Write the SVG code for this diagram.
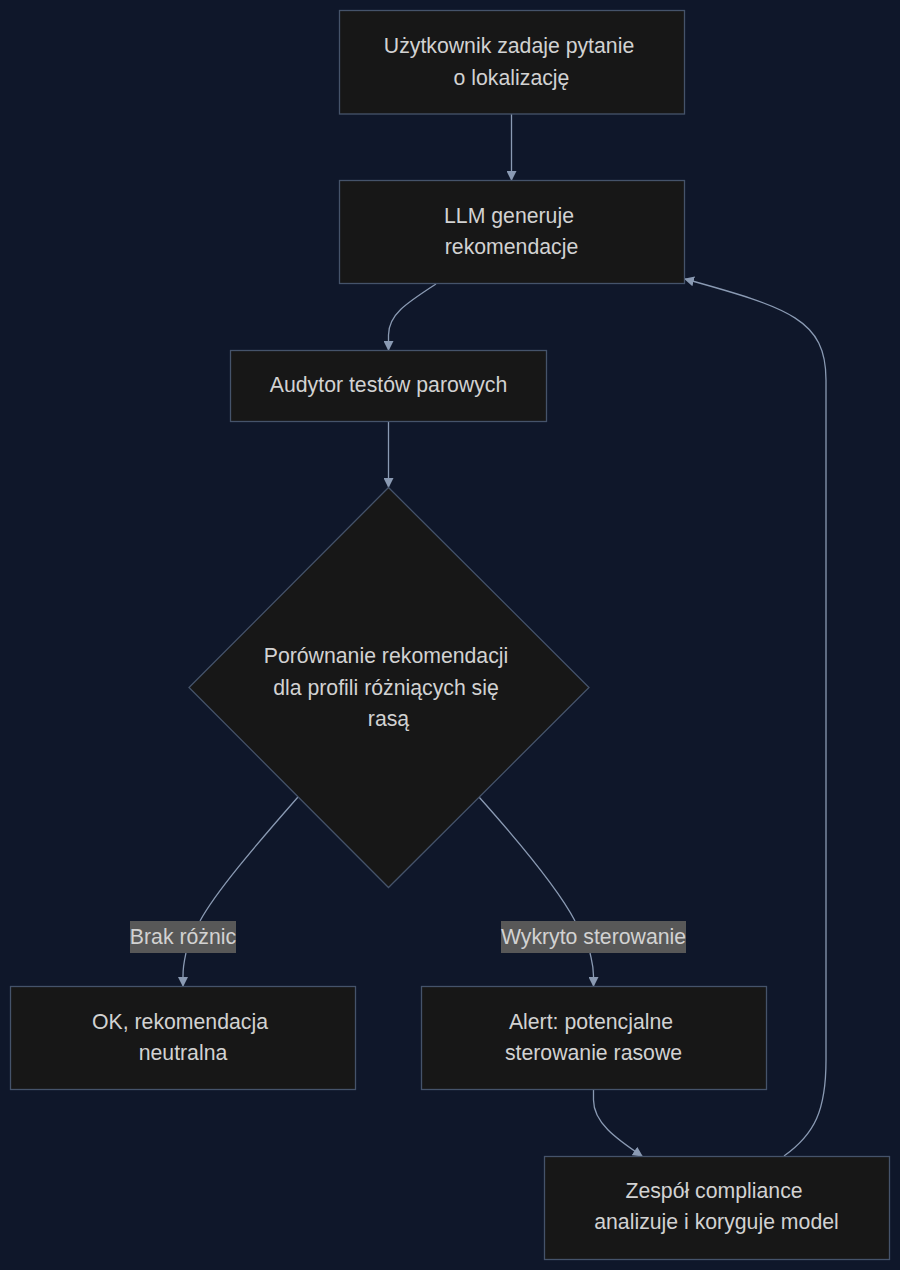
<svg xmlns="http://www.w3.org/2000/svg" width="900" height="1270" viewBox="0 0 900 1270">
<defs>
<style>
.node{fill:#171717;stroke:#45536a;stroke-width:1.3}
.t{font-family:"Liberation Sans",Arial,sans-serif;font-size:21.25px;fill:#d2d2d2;text-anchor:middle}
.e{fill:none;stroke:#8a9ab3;stroke-width:1.3}
.lbl{fill:#585858}
</style>
<marker id="arr" viewBox="0 0 10 10" refX="9" refY="5" markerWidth="10" markerHeight="10" markerUnits="userSpaceOnUse" orient="auto">
<path d="M0,0 L10,5 L0,10 z" fill="#8a9ab3"/>
</marker>
</defs>
<rect width="900" height="1270" fill="#0f172a"/>
<g id="edges">
<path class="e" d="M511.5,114 L511.5,180" marker-end="url(#arr)"/>
<path class="e" d="M436,284 C405,304 388.5,315 388.5,335 L388.5,350" marker-end="url(#arr)"/>
<path class="e" d="M388.5,421 L388.5,487" marker-end="url(#arr)"/>
<path class="e" d="M298,797 C255,846 215,893 200,921" />
<path class="e" d="M186,953 C184,962 183,966 183,976 L183,986" marker-end="url(#arr)"/>
<path class="e" d="M479,797 C520,843 560,892 575,921" />
<path class="e" d="M590,953 C592,962 593.5,966 593.5,976 L593.5,986" marker-end="url(#arr)"/>
<path class="e" d="M593.5,1089 L593.5,1100 C593.5,1122 615,1138 642,1156" marker-end="url(#arr)"/>
<path class="e" d="M784,1156 C815,1134 826,1110 826,1060 L826,380 C826,320 790,308 685,279" marker-end="url(#arr)"/>
</g>
<g id="node-a">
<rect class="node" x="339.5" y="10.5" width="345" height="103.5"/>
<text class="t" x="509" y="53">Użytkownik zadaje pytanie</text>
<text class="t" x="511.5" y="85">o lokalizację</text>
</g>
<g id="node-b">
<rect class="node" x="339.5" y="180.5" width="345" height="103"/>
<text class="t" x="509" y="223">LLM generuje</text>
<text class="t" x="511.5" y="254">rekomendacje</text>
</g>
<g id="node-c">
<rect class="node" x="230.5" y="350.5" width="316" height="71"/>
<text class="t" x="388.5" y="392">Audytor testów parowych</text>
</g>
<g id="node-d">
<polygon class="node" points="388.5,487.5 589,687.5 388.5,887.5 189,687.5"/>
<text class="t" x="386" y="663">Porównanie rekomendacji</text>
<text class="t" x="386" y="695">dla profili różniących się</text>
<text class="t" x="388.5" y="726">rasą</text>
</g>
<g id="label-no">
<rect class="lbl" x="130" y="921" width="106" height="32"/>
<text class="t" x="183" y="944">Brak różnic</text>
</g>
<g id="label-yes">
<rect class="lbl" x="501" y="921" width="185" height="32"/>
<text class="t" x="593.5" y="944">Wykryto sterowanie</text>
</g>
<g id="node-e">
<rect class="node" x="10.5" y="986.5" width="345" height="103"/>
<text class="t" x="180" y="1029">OK, rekomendacja</text>
<text class="t" x="183" y="1060">neutralna</text>
</g>
<g id="node-f">
<rect class="node" x="421.5" y="986.5" width="345" height="103"/>
<text class="t" x="591" y="1029">Alert: potencjalne</text>
<text class="t" x="593.5" y="1060">sterowanie rasowe</text>
</g>
<g id="node-g">
<rect class="node" x="544.5" y="1156.5" width="345" height="103"/>
<text class="t" x="714" y="1198">Zespół compliance</text>
<text class="t" x="716.5" y="1229">analizuje i koryguje model</text>
</g>
</svg>
